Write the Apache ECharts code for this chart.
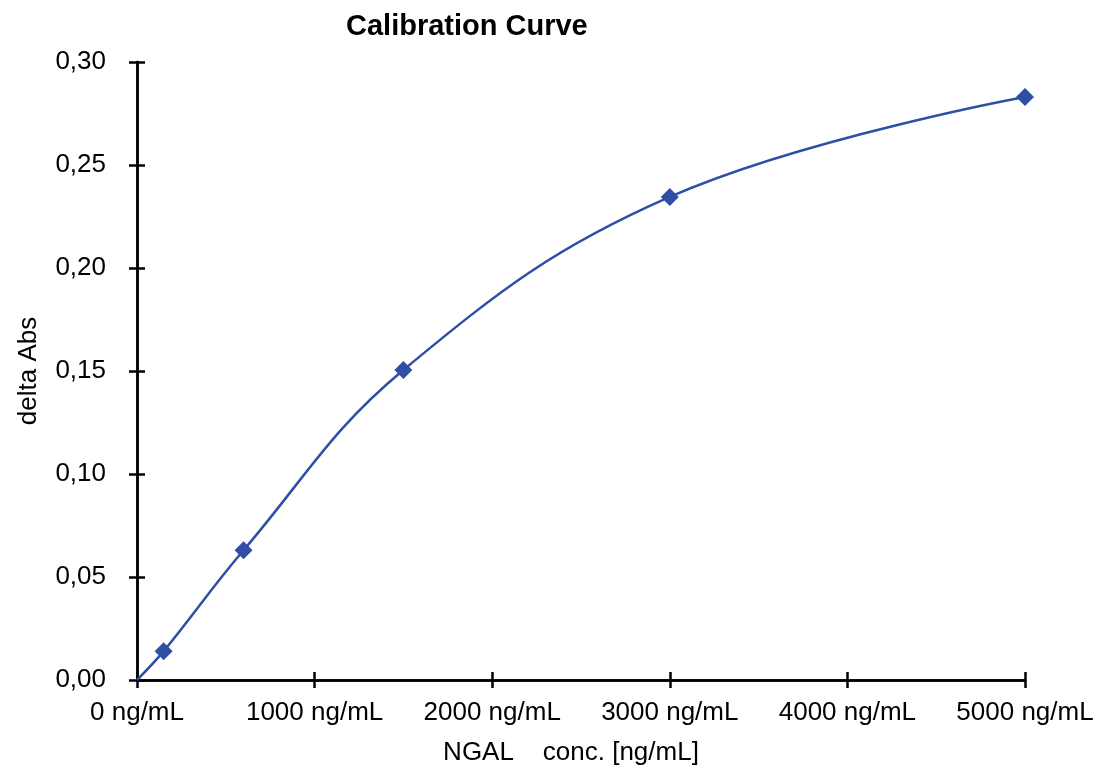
<!DOCTYPE html>
<html>
<head>
<meta charset="utf-8">
<script src="https://cdn.jsdelivr.net/npm/echarts@6/dist/echarts.min.js"></script>
<style>html,body{margin:0;padding:0;background:#fff}#c{width:1098px;height:771px}</style>
</head>
<body>
<div id="c"></div>
<script>
const concentrations = [0, 150, 600, 1500, 3000, 5000];
const deltaAbs = [0, 0.014, 0.063, 0.1505, 0.2345, 0.283];
const xTicks = [0, 1000, 2000, 3000, 4000, 5000];
const yTicks = [0, 0.05, 0.10, 0.15, 0.20, 0.25, 0.30];

const font = 'Liberation Sans, Arial, sans-serif';
const lineColor = '#2F4EA6';
const axisCommon = {
  axisLine: { show: true, onZero: false, lineStyle: { color: '#000', width: 2.5 } },
  splitLine: { show: false }
};
const chart = echarts.init(document.getElementById('c'));
chart.setOption({
  animation: false,
  backgroundColor: '#fff',
  title: {
    text: 'Calibration Curve', left: 341, top: 7,
    textStyle: { fontFamily: font, fontWeight: 'bold', fontSize: 29, color: '#000' }
  },
  grid: { left: 137, right: 73, top: 62, bottom: 91, containLabel: false },
  xAxis: [
    Object.assign({}, axisCommon, {
      type: 'value', min: 0, max: 5000, interval: 1000, position: 'bottom',
      axisTick: { show: true, inside: false, length: 8, lineStyle: { color: '#000', width: 2.5 } },
      axisLabel: { margin: 20, fontFamily: font, fontSize: 26, color: '#000', formatter: v => v + ' ng/mL' },
      name: 'NGAL    conc. [ng/mL]', nameLocation: 'middle', nameGap: 60,
      nameTextStyle: { fontFamily: font, fontSize: 26, color: '#000', padding: [0, 20, 0, 0] }
    }),
    Object.assign({}, axisCommon, {
      type: 'value', min: 0, max: 5000, interval: 1000, position: 'bottom',
      axisTick: { show: true, inside: true, length: 8, lineStyle: { color: '#000', width: 2.5 } },
      axisLabel: { show: false }
    })
  ],
  yAxis: [
    Object.assign({}, axisCommon, {
      type: 'value', min: 0, max: 0.30, interval: 0.05, position: 'left',
      axisTick: { show: true, inside: false, length: 8, lineStyle: { color: '#000', width: 2.5 } },
      axisLabel: { margin: 31, fontFamily: font, fontSize: 26, color: '#000', formatter: v => v.toFixed(2).replace('.', ',') },
      name: 'delta Abs', nameLocation: 'middle', nameGap: 95, nameRotate: 90,
      nameTextStyle: { fontFamily: font, fontSize: 26, color: '#000' }
    }),
    Object.assign({}, axisCommon, {
      type: 'value', min: 0, max: 0.30, interval: 0.05, position: 'left',
      axisTick: { show: true, inside: true, length: 8, lineStyle: { color: '#000', width: 2.5 } },
      axisLabel: { show: false }
    })
  ],
  series: [{
    type: 'line',
    xAxisIndex: 0, yAxisIndex: 0,
    smooth: 0.4,
    data: concentrations.map((x, i) => ({
      value: [x, deltaAbs[i]],
      symbol: i === 0 ? 'none' : 'diamond'
    })),
    symbol: 'diamond', symbolSize: 18,
    showAllSymbol: true,
    lineStyle: { color: lineColor, width: 2.5 },
    itemStyle: { color: lineColor }
  }]
});
</script>
</body>
</html>
